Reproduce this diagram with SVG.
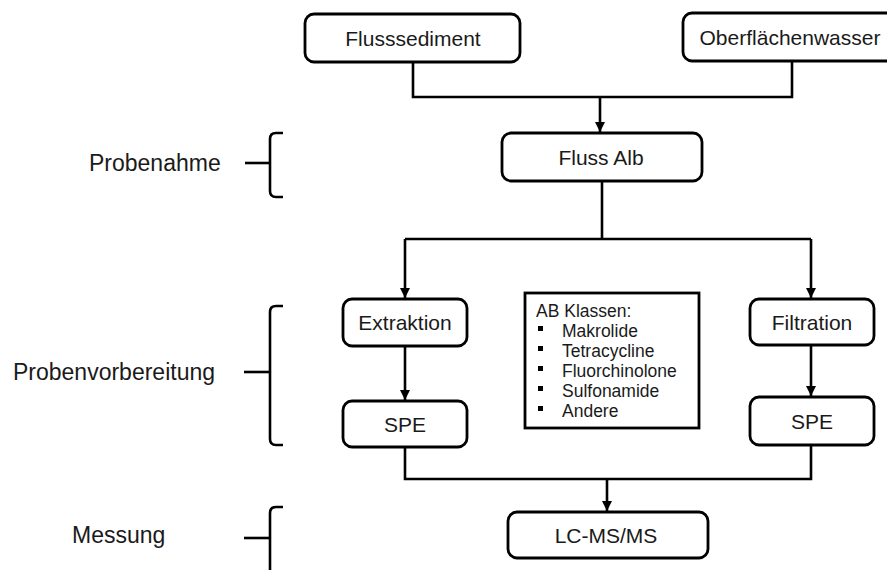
<svg xmlns="http://www.w3.org/2000/svg" width="887" height="570" viewBox="0 0 887 570">
<style>
.box{fill:#fff;stroke:#000;stroke-width:2.8}
.t{font-family:"Liberation Sans",Arial,sans-serif;font-size:21px;fill:#1a1a1a;text-anchor:middle}
.lab{font-family:"Liberation Sans",Arial,sans-serif;font-size:23px;fill:#1a1a1a}
.li{font-family:"Liberation Sans",Arial,sans-serif;font-size:17.5px;fill:#1a1a1a}
.ln{fill:none;stroke:#000;stroke-width:2.6}
.br{fill:none;stroke:#000;stroke-width:2.6}
</style>
<defs>
<marker id="ah" viewBox="0 0 10 10" refX="10" refY="5" markerWidth="4" markerHeight="4" orient="auto" markerUnits="strokeWidth">
<path d="M0,0 L10,5 L0,10 z" fill="#000"/>
</marker>
</defs>
<rect width="887" height="570" fill="#fff"/>

<g id="connectors">
<path class="ln" d="M413,62 V97 H792 V60"/>
<path class="ln" d="M600,97 V132" marker-end="url(#ah)"/>
<path class="ln" d="M602,181 V239"/>
<path class="ln" d="M405,239 H811"/>
<path class="ln" d="M405,239 V298" marker-end="url(#ah)"/>
<path class="ln" d="M811,239 V298" marker-end="url(#ah)"/>
<path class="ln" d="M405,346 V400" marker-end="url(#ah)"/>
<path class="ln" d="M811,345 V396" marker-end="url(#ah)"/>
<path class="ln" d="M405,447 V479 H811 V445"/>
<path class="ln" d="M607,479 V511" marker-end="url(#ah)"/>
</g>

<g id="flusssediment">
<rect class="box" x="305" y="14" width="215" height="48" rx="9"/>
<text class="t" x="413" y="45.5">Flusssediment</text>
</g>
<g id="oberflaechenwasser">
<rect class="box" x="683" y="13" width="230" height="48" rx="9"/>
<text class="t" x="790" y="45">Oberflächenwasser</text>
</g>
<g id="fluss-alb">
<rect class="box" x="502" y="133" width="200" height="48" rx="9"/>
<text class="t" x="601" y="164.5">Fluss Alb</text>
</g>
<g id="extraktion">
<rect class="box" x="343" y="299" width="124" height="47" rx="9"/>
<text class="t" x="405" y="330">Extraktion</text>
</g>
<g id="spe-left">
<rect class="box" x="343" y="401" width="124" height="46" rx="9"/>
<text class="t" x="405" y="431.5">SPE</text>
</g>
<g id="filtration">
<rect class="box" x="750" y="299" width="124" height="46" rx="9"/>
<text class="t" x="812" y="330">Filtration</text>
</g>
<g id="spe-right">
<rect class="box" x="750" y="397" width="124" height="48" rx="9"/>
<text class="t" x="812" y="428.5">SPE</text>
</g>
<g id="lcmsms">
<rect class="box" x="508" y="512" width="200" height="46" rx="9"/>
<text class="t" x="606" y="542.5">LC-MS/MS</text>
</g>

<g id="ab-klassen">
<rect x="525" y="293" width="174" height="135" fill="#fff" stroke="#000" stroke-width="2.8"/>
<text class="li" x="536" y="317">AB Klassen:</text>
<rect x="538" y="326" width="5" height="5" fill="#000"/>
<text class="li" x="562" y="337">Makrolide</text>
<rect x="538" y="346" width="5" height="5" fill="#000"/>
<text class="li" x="562" y="357">Tetracycline</text>
<rect x="538" y="366" width="5" height="5" fill="#000"/>
<text class="li" x="562" y="377">Fluorchinolone</text>
<rect x="538" y="386" width="5" height="5" fill="#000"/>
<text class="li" x="562" y="397">Sulfonamide</text>
<rect x="538" y="406" width="5" height="5" fill="#000"/>
<text class="li" x="562" y="417">Andere</text>
</g>

<g id="probenahme">
<text class="lab" x="89" y="171">Probenahme</text>
<path class="br" d="M283,133 H276 Q270,133 270,139 V191 Q270,197 276,197 H283"/>
<path class="br" d="M245,163 H270"/>
</g>
<g id="probenvorbereitung">
<text class="lab" x="13" y="380">Probenvorbereitung</text>
<path class="br" d="M283,306 H276 Q270,306 270,312 V439 Q270,445 276,445 H283"/>
<path class="br" d="M244,372 H270"/>
</g>
<g id="messung">
<text class="lab" x="72" y="543">Messung</text>
<path class="br" d="M283,507 H276 Q270,507 270,513 V575"/>
<path class="br" d="M244,538 H270"/>
</g>
</svg>
